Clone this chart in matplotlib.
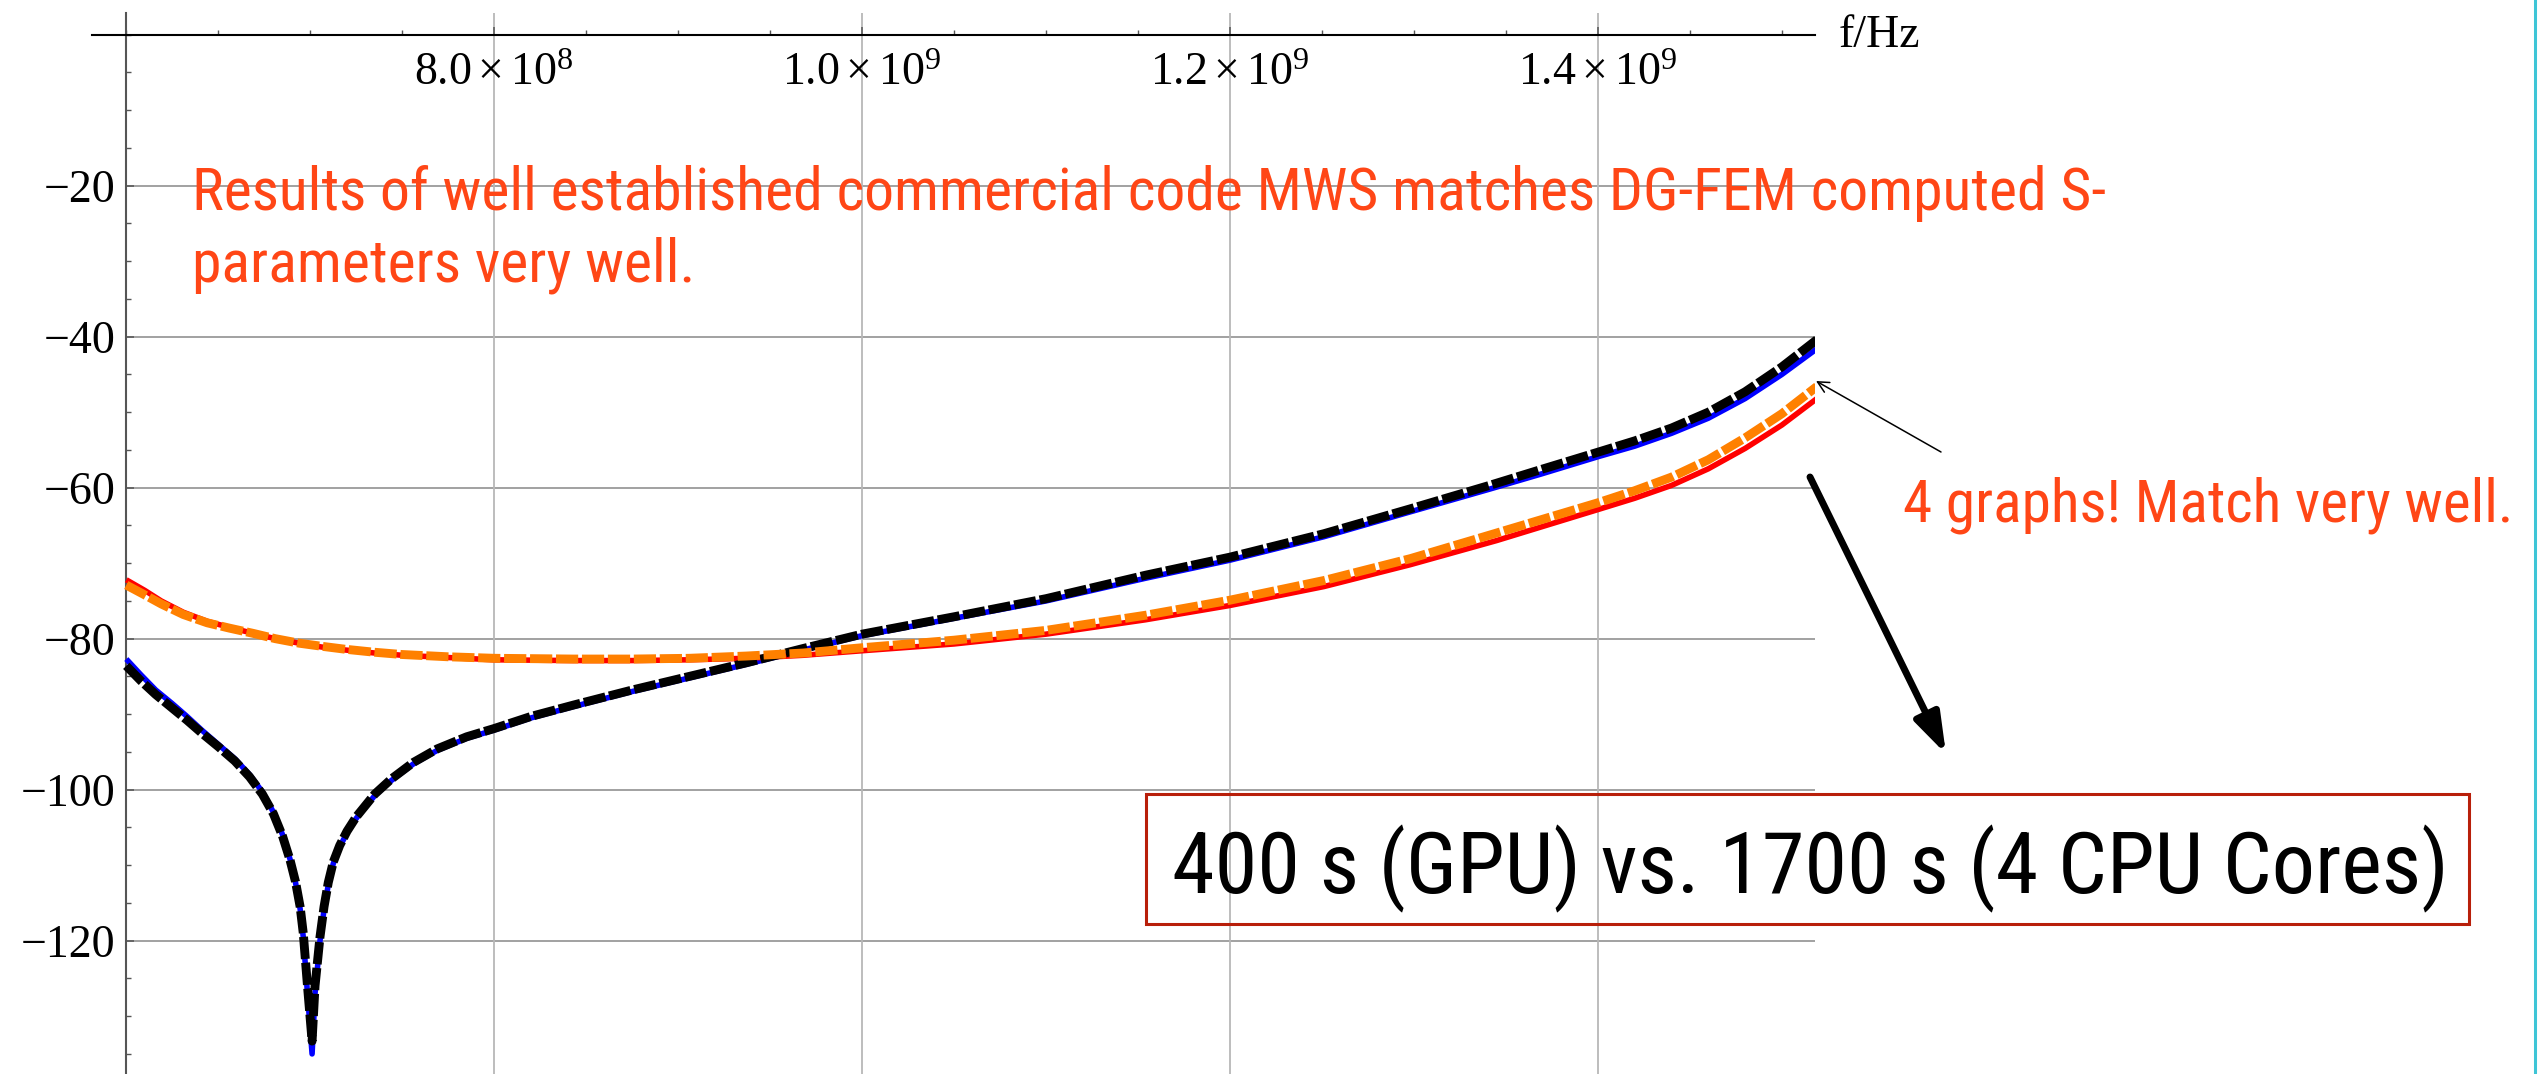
import os
import numpy as np
import matplotlib
matplotlib.use('Agg')
import matplotlib.pyplot as plt
from matplotlib import font_manager
from matplotlib.font_manager import FontProperties
from matplotlib.ticker import FixedLocator, FixedFormatter, MultipleLocator
from matplotlib.patches import Rectangle, FancyArrowPatch, ArrowStyle
from matplotlib.lines import Line2D

# ---------------- data (frequency in GHz, values in dB) ----------------
f_s21_ghz = [0.600, 0.608, 0.616, 0.625, 0.633, 0.641, 0.650, 0.659, 0.667, 0.674,
             0.680, 0.685, 0.689, 0.692, 0.6945, 0.6962, 0.6985, 0.7010, 0.7026, 0.7053,
             0.7075, 0.7098, 0.7125, 0.716, 0.720, 0.725, 0.735, 0.744, 0.756, 0.769,
             0.785, 0.800, 0.820, 0.843, 0.875, 0.906, 0.937, 0.968, 1.000, 1.050,
             1.100, 1.154, 1.200, 1.251, 1.298, 1.341, 1.369, 1.400, 1.420, 1.440,
             1.460, 1.480, 1.500, 1.519]
s21_dgfem = [-82.7, -84.8, -86.8, -88.6, -90.3, -92.1, -94.0, -95.9, -98.0, -100.3,
             -103.0, -106.0, -109.2, -112.3, -115.8, -119.5, -127.0, -135.0, -127.0, -120.0,
             -115.9, -112.6, -109.8, -107.6, -105.7, -103.8, -100.8, -98.8, -96.6, -94.8,
             -93.2, -92.1, -90.5, -89.0, -87.0, -85.2, -83.4, -81.5, -79.6, -77.3,
             -75.0, -72.0, -69.6, -66.5, -63.2, -60.2, -58.2, -55.9, -54.5, -52.8,
             -50.8, -48.2, -45.0, -41.6]
s21_mws = [-83.6, -85.6, -87.4, -89.2, -90.8, -92.5, -94.3, -96.2, -98.3, -100.6,
           -103.2, -106.2, -109.3, -112.2, -115.5, -119.0, -126.0, -133.3, -126.0, -119.5,
           -115.5, -112.3, -109.6, -107.4, -105.5, -103.6, -100.6, -98.6, -96.4, -94.6,
           -93.0, -91.9, -90.3, -88.8, -86.8, -85.0, -83.2, -81.3, -79.4, -77.1,
           -74.7, -71.6, -69.2, -66.1, -62.8, -59.7, -57.6, -55.3, -53.8, -52.1,
           -50.0, -47.3, -44.0, -40.4]

f_s11_ghz = [0.600, 0.610, 0.619, 0.631, 0.644, 0.656, 0.669, 0.681, 0.694, 0.706,
             0.719, 0.735, 0.750, 0.775, 0.800, 0.843, 0.875, 0.906, 0.937, 0.968,
             1.000, 1.050, 1.100, 1.154, 1.200, 1.251, 1.298, 1.345, 1.400, 1.420,
             1.440, 1.460, 1.480, 1.500, 1.519]
s11_dgfem = [-72.2, -73.6, -75.0, -76.5, -77.7, -78.5, -79.3, -80.0, -80.6, -81.1,
             -81.5, -81.9, -82.2, -82.5, -82.8, -82.9, -82.9, -82.8, -82.6, -82.2,
             -81.6, -80.7, -79.4, -77.5, -75.6, -73.1, -70.2, -67.0, -62.9, -61.4,
             -59.7, -57.5, -54.8, -51.7, -48.2]
s11_mws = [-72.9, -74.2, -75.4, -76.8, -77.9, -78.6, -79.3, -80.0, -80.6, -81.0,
           -81.4, -81.8, -82.1, -82.4, -82.6, -82.7, -82.7, -82.6, -82.3, -81.9,
           -81.2, -80.2, -78.9, -76.9, -74.9, -72.3, -69.4, -66.0, -62.0, -60.4,
           -58.6, -56.3, -53.4, -50.2, -46.6]

xtick_values = [8.0e8, 1.0e9, 1.2e9, 1.4e9]
xtick_labels = [r'$8.0\times10^{8}$', r'$1.0\times10^{9}$',
                r'$1.2\times10^{9}$', r'$1.4\times10^{9}$']
ytick_values = [-120, -100, -80, -60, -40, -20]
ytick_labels = ['\u2212120', '\u2212100', '\u221280', '\u221260', '\u221240', '\u221220']

axis_label = 'f/Hz'
note_line1 = 'Results of well established commercial code MWS matches DG-FEM computed S-'
note_line2 = 'parameters very well.'
note_match = '4 graphs! Match very well.'
note_time = '400 s (GPU) vs. 1700 s (4 CPU Cores)'

# ---------------- style ----------------
W, H, DPI = 2539, 1074, 100
RED_TXT = '#FF4616'
plt.rcParams['mathtext.fontset'] = 'custom'
plt.rcParams['mathtext.rm'] = 'Liberation Serif'
plt.rcParams['mathtext.it'] = 'Liberation Serif:italic'
plt.rcParams['mathtext.bf'] = 'Liberation Serif:bold'
SERIF = 'Liberation Serif'


def pick_condensed_sans():
    prefs = ['liberation sans narrow', 'arial narrow', 'roboto condensed',
             'noto sans', 'open sans', 'dejavu sans']
    best, best_rank = None, 99
    for f in font_manager.fontManager.ttflist:
        txt = (f.name + ' ' + os.path.basename(f.fname)).lower()
        if f.style != 'normal':
            continue
        w = f.weight
        if isinstance(w, str):
            w = font_manager.weight_dict.get(w, 400)
        if w != 400:
            continue
        if not ('narrow' in txt or 'condensed' in txt):
            continue
        if any(k in txt for k in ('semi', 'extra', 'ultra', 'mono', 'cjk', 'bold',
                                  'light', 'thin', 'medium', 'black', 'italic')):
            continue
        rank = 50
        for i, p in enumerate(prefs):
            if p in txt:
                rank = i
                break
        if rank < best_rank:
            best, best_rank = f, rank
    if best is None:
        return FontProperties(family='Liberation Sans')
    return FontProperties(fname=best.fname)


SANS_FP = pick_condensed_sans()

fig = plt.figure(figsize=(W / DPI, H / DPI), dpi=DPI)
fig.patch.set_facecolor('white')


def fx(x):
    return x / W


def fy(y):
    return 1 - y / H


ax = fig.add_axes([fx(91.7), 0, (1815.4 - 91.7) / W, (H - 13.3) / H])
ax.set_xlim(5.812e8, 15.182e8)
ax.set_ylim(-137.66, 2.83)
ax.set_facecolor('none')

for s in ('top', 'right'):
    ax.spines[s].set_visible(False)
ax.spines['left'].set_position(('data', 6.0e8))
ax.spines['bottom'].set_position(('data', 0))
ax.spines['bottom'].set_color('black')
ax.spines['bottom'].set_linewidth(1.5)
ax.spines['left'].set_color('#555555')
ax.spines['left'].set_linewidth(1.5)

ax.xaxis.set_major_locator(FixedLocator(xtick_values))
ax.xaxis.set_major_formatter(FixedFormatter(xtick_labels))
ax.xaxis.set_minor_locator(MultipleLocator(5e7))
ax.yaxis.set_major_locator(FixedLocator(ytick_values))
ax.yaxis.set_major_formatter(FixedFormatter(ytick_labels))
ax.yaxis.set_minor_locator(MultipleLocator(5))

ax.tick_params(axis='both', which='major', direction='in', length=6, width=1.1,
               color='#555555', labelsize=33, labelcolor='black')
ax.tick_params(axis='both', which='minor', direction='in', length=3.3, width=1.0,
               color='#555555')
ax.tick_params(axis='x', which='major', pad=11)
ax.tick_params(axis='y', which='major', pad=8)
for lab in ax.get_yticklabels():
    lab.set_family(SERIF)

# grid
ax.grid(axis='x', which='major', color='#b8b8b8', lw=1.3, zorder=0)
x0, x1 = ax.get_xlim()
xmin_frac = (6.0e8 - x0) / (x1 - x0)
for yv in ytick_values:
    ax.axhline(yv, xmin=xmin_frac, xmax=1, color='#9a9a9a', lw=1.3, zorder=0)
ax.set_axisbelow(True)

# curves
f21 = np.array(f_s21_ghz) * 1e9
f11 = np.array(f_s11_ghz) * 1e9
ax.plot(f21, s21_dgfem, color='#0000FF', lw=4.0, solid_capstyle='butt',
        solid_joinstyle='round', zorder=3)
ax.plot(f11, s11_dgfem, color='#FF0000', lw=4.0, solid_capstyle='butt',
        solid_joinstyle='round', zorder=3)
ax.plot(f21, s21_mws, color='black', lw=6.4, dashes=(2.5, 0.42),
        dash_capstyle='butt', dash_joinstyle='round', zorder=4)
ax.plot(f11, s11_mws, color='#FF8000', lw=6.4, dashes=(2.5, 0.42),
        dash_capstyle='butt', dash_joinstyle='round', zorder=4)

# axis label
fig.text(fx(1839), fy(36), axis_label, family=SERIF, fontsize=33, va='center', ha='left')

# annotations
renderer = fig.canvas.get_renderer()


def fit(t, target):
    bb = t.get_window_extent(renderer)
    t.set_fontsize(t.get_fontsize() * target / bb.width)


t1 = fig.text(fx(192), fy(210), note_line1, fontproperties=SANS_FP, fontsize=44,
              color=RED_TXT, va='baseline', ha='left')
fit(t1, 1916)
t2 = fig.text(fx(192), fy(281.7), note_line2, fontproperties=SANS_FP,
              fontsize=t1.get_fontsize(), color=RED_TXT, va='baseline', ha='left')
t3 = fig.text(fx(1903), fy(521.7), note_match, fontproperties=SANS_FP, fontsize=44,
              color=RED_TXT, va='baseline', ha='left')
fit(t3, 610)
t4 = fig.text(fx(1171.6), fy(893.3), note_time, fontproperties=SANS_FP, fontsize=65,
              color='black', va='baseline', ha='left')
fit(t4, 1277)

fig.add_artist(Rectangle((fx(1146), fy(924)), (2469 - 1146) / W, (924 - 794) / H,
                         transform=fig.transFigure, fill=False, edgecolor='#B81F0A',
                         lw=2.2))

thick = FancyArrowPatch((fx(1810), fy(477)), (fx(1946), fy(754)),
                        transform=fig.transFigure,
                        arrowstyle=ArrowStyle('-|>', head_length=24, head_width=8),
                        mutation_scale=1, lw=5, color='black', shrinkA=0, shrinkB=0)
fig.add_artist(thick)
thin = FancyArrowPatch((fx(1941), fy(452)), (fx(1816), fy(381)),
                       transform=fig.transFigure,
                       arrowstyle=ArrowStyle('->', head_length=8, head_width=4),
                       mutation_scale=1, lw=1.1, color='black', shrinkA=0, shrinkB=0)
fig.add_artist(thin)

fig.add_artist(Line2D([fx(2535), fx(2535)], [0, 1], transform=fig.transFigure,
                      color='#3EC5D6', lw=2.2))

fig.savefig('out.png', dpi=DPI, facecolor='white')
